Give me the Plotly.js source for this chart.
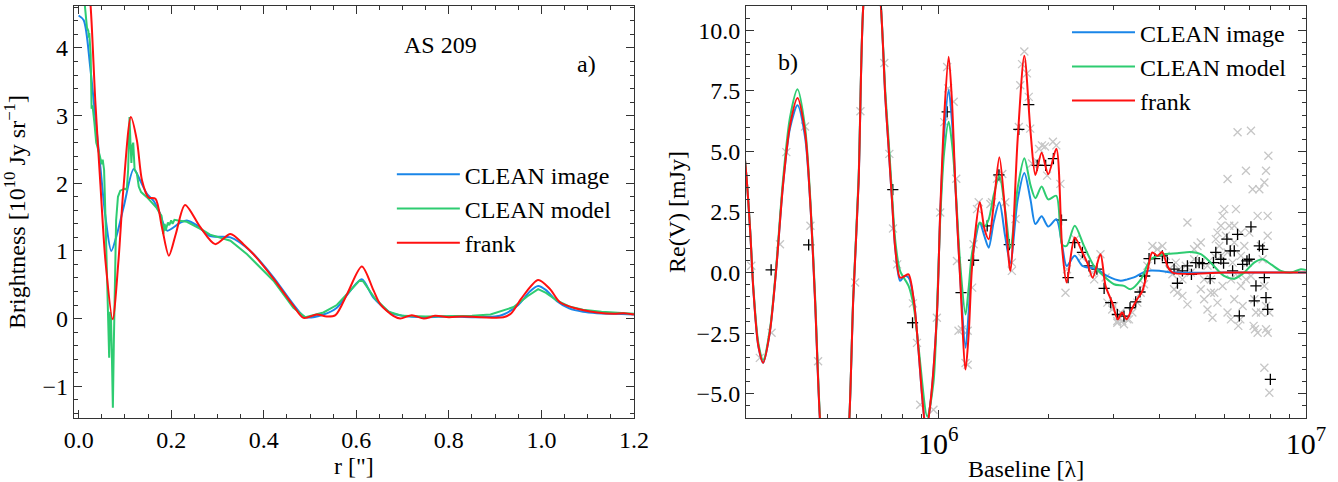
<!DOCTYPE html>
<html>
<head>
<meta charset="utf-8">
<script src="https://cdn.plot.ly/plotly-3.0.1.min.js"></script>
<style>
  html, body { margin: 0; padding: 0; background: #fff; }
  #chart { width: 1338px; height: 482px; }
</style>
</head>
<body>
<div id="chart"></div>
<script>
// a) brightness profiles, r in arcsec, brightness in 1e10 Jy/sr
const imgR = [0, 0.011, 0.025, 0.036, 0.047, 0.058, 0.0706, 0.083, 0.097, 0.119, 0.133, 0.148, 0.162, 0.176, 0.191, 0.22, 0.234, 0.255, 0.284, 0.328, 0.371, 0.421, 0.464, 0.49, 0.529, 0.558, 0.587, 0.612, 0.637, 0.673, 0.70, 0.75, 0.8, 0.85, 0.9, 0.918, 0.95, 0.975, 0.993, 1.01, 1.033, 1.06, 1.09, 1.12, 1.16, 1.2];
const imgB = [4.48, 4.41, 3.72, 2.98, 2.24, 1.50, 1.0, 1.25, 1.64, 2.21, 2.04, 1.84, 1.74, 1.55, 1.30, 1.42, 1.45, 1.38, 1.22, 1.20, 1.0, 0.61, 0.21, 0.02, 0.06, 0.16, 0.41, 0.58, 0.31, 0.09, 0.04, 0.02, 0.03, 0.02, 0.03, 0.06, 0.2, 0.4, 0.48, 0.42, 0.26, 0.15, 0.1, 0.08, 0.07, 0.06];

const modR = [0, 0.012, 0.018, 0.021, 0.022, 0.023, 0.026, 0.028, 0.030, 0.034, 0.038, 0.043, 0.048, 0.050, 0.052, 0.055, 0.058, 0.061, 0.063, 0.066, 0.068, 0.070, 0.072, 0.074, 0.076, 0.078, 0.081, 0.085, 0.09, 0.1, 0.104, 0.107, 0.110, 0.112, 0.114, 0.116, 0.118, 0.121, 0.126, 0.13, 0.135, 0.148, 0.16, 0.168, 0.176, 0.179, 0.181, 0.183, 0.186, 0.188, 0.19, 0.193, 0.196, 0.2, 0.203, 0.207, 0.215, 0.234, 0.27, 0.284, 0.328, 0.364, 0.421, 0.464, 0.49, 0.529, 0.558, 0.595, 0.607, 0.615, 0.64, 0.67, 0.7, 0.75, 0.8, 0.85, 0.89, 0.94, 0.97, 0.993, 1.01, 1.033, 1.06, 1.09, 1.13, 1.17, 1.2];
const modB = [5.6, 4.7, 4.3, 4.25, 4.15, 4.22, 3.9, 3.1, 3.15, 2.9, 2.6, 2.48, 2.33, 2.28, 2.35, 2.2, 1.5, 0.6, 0.0, -0.58, 0.1, 0.0, -0.6, -1.32, -0.4, 0.3, 1.45, 1.8, 1.89, 1.92, 1.9, 2.2, 2.98, 2.6, 2.3, 2.55, 2.6, 2.2, 2.14, 1.95, 1.87, 1.79, 1.7, 1.64, 1.55, 1.52, 1.4, 1.25, 1.4, 1.3, 1.35, 1.42, 1.38, 1.45, 1.40, 1.46, 1.45, 1.43, 1.3, 1.24, 1.15, 0.95, 0.56, 0.16, 0.02, 0.09, 0.2, 0.48, 0.56, 0.55, 0.3, 0.1, 0.04, 0.03, 0.03, 0.04, 0.06, 0.17, 0.33, 0.435, 0.38, 0.27, 0.18, 0.13, 0.1, 0.08, 0.07];

const frkR = [0, 0.015, 0.027, 0.036, 0.047, 0.058, 0.0735, 0.086, 0.097, 0.113, 0.126, 0.137, 0.151, 0.166, 0.18, 0.195, 0.21, 0.23, 0.263, 0.295, 0.328, 0.356, 0.378, 0.421, 0.464, 0.486, 0.515, 0.536, 0.555, 0.58, 0.612, 0.637, 0.652, 0.68, 0.695, 0.72, 0.746, 0.77, 0.8, 0.83, 0.87, 0.918, 0.935, 0.957, 0.993, 1.018, 1.04, 1.069, 1.12, 1.157, 1.178, 1.2];
const frkB = [6.6, 5.6, 4.5, 3.22, 1.99, 0.85, -0.01, 0.85, 1.94, 2.98, 2.63, 2.04, 1.79, 1.77, 1.35, 0.93, 1.25, 1.68, 1.35, 1.10, 1.25, 1.10, 0.95, 0.59, 0.19, 0.01, 0.06, 0.03, 0.05, 0.36, 0.77, 0.42, 0.21, 0.04, 0.0, 0.05, 0.0, 0.04, 0.02, 0.03, 0.02, 0.02, 0.08, 0.30, 0.57, 0.44, 0.24, 0.16, 0.09, 0.07, 0.08, 0.06];

// b) visibilities, baseline in Mlambda, Re(V) in mJy
const imgBase = [0.29, 0.301, 0.308, 0.314, 0.324, 0.334, 0.348, 0.363, 0.378, 0.395, 0.414, 0.434, 0.448, 0.462, 0.476, 0.50, 0.525, 0.55, 0.573, 0.587, 0.607, 0.625, 0.661, 0.698, 0.718, 0.733, 0.748, 0.764, 0.787, 0.808, 0.830, 0.857, 0.883, 0.905, 0.926, 0.95, 0.991, 1.012, 1.038, 1.067, 1.09, 1.112, 1.148, 1.186, 1.21, 1.236, 1.297, 1.335, 1.371, 1.415, 1.466, 1.52, 1.570, 1.644, 1.714, 1.782, 1.837, 1.910, 1.991, 2.094, 2.173, 2.234, 2.35, 2.466, 2.70, 2.877, 3.133, 3.266, 3.404, 3.698, 4.027, 4.365, 6.0, 10];
const imgRe = [6.5, 3.9, 1.66, -0.69, -3.03, -3.72, -2.48, 0.28, 3.59, 5.95, 6.9, 5.6, 3.0, -1.1, -5.93, -10.5, -12, -10.5, -6, -1.1, 3.72, 11, 15, 11, 7.17, 5.1, 3.03, 0.97, -0.34, -0.15, -0.2, -1.1, -3.17, -5.2, -6.4, -5.5, -1.79, 2.4, 5.8, 7.53, 6.2, 3.73, -0.3, -3.1, -1.6, 0.5, 2.05, 1.5, 1.03, 2.1, 2.9, 1.5, 0.4, 3.0, 4.11, 3.0, 2.0, 2.32, 1.9, 2.2, 1.1, 0.27, 0.69, 0.28, 0.14, -0.14, -0.34, -0.28, -0.2, 0.07, 0.07, 0, 0, 0];

const modBase = [0.29, 0.301, 0.308, 0.314, 0.324, 0.334, 0.348, 0.363, 0.378, 0.395, 0.414, 0.434, 0.448, 0.462, 0.476, 0.50, 0.525, 0.55, 0.573, 0.587, 0.607, 0.625, 0.661, 0.698, 0.718, 0.733, 0.748, 0.764, 0.787, 0.830, 0.857, 0.883, 0.933, 0.97, 0.991, 1.012, 1.038, 1.067, 1.09, 1.112, 1.148, 1.186, 1.21, 1.236, 1.297, 1.335, 1.371, 1.415, 1.466, 1.52, 1.570, 1.644, 1.714, 1.782, 1.837, 1.910, 1.991, 2.094, 2.173, 2.234, 2.35, 2.49, 2.649, 2.818, 3.006, 3.199, 3.334, 3.556, 3.784, 4.111, 4.467, 4.853, 5.176, 5.508, 5.984, 6.383, 6.792, 7.228, 7.621, 8.035, 8.551, 9.12, 9.683, 10];
const modRe = [6.5, 3.9, 1.7, -0.6, -2.9, -3.6, -2.4, 0.4, 3.8, 6.4, 7.56, 6.0, 3.2, -0.9, -5.8, -10.5, -12, -10.5, -6, -1.0, 3.9, 11, 15, 11, 7.4, 5.4, 3.3, 1.3, 0.07, -0.55, -1.38, -3.03, -5.93, -4.55, -1.66, 2.2, 5.0, 6.22, 5.3, 3.73, 0.28, -1.73, -0.6, 0.83, 2.07, 1.9, 2.2, 3.2, 4.0, 2.6, 1.02, 3.5, 4.72, 3.6, 3.07, 3.55, 3.02, 3.17, 1.15, 1.1, 1.93, 1.1, 0.28, -0.14, -0.48, -0.55, -0.69, -0.28, 0.55, 0.76, 0.8, 0.85, 0.76, 0.41, -0.14, -0.25, 0, 0.41, 0.55, 0.34, 0.07, 0, 0.14, 0.11];

const frkBase = [0.29, 0.301, 0.308, 0.314, 0.324, 0.334, 0.348, 0.363, 0.378, 0.395, 0.414, 0.434, 0.448, 0.462, 0.476, 0.50, 0.525, 0.55, 0.573, 0.587, 0.607, 0.625, 0.661, 0.698, 0.718, 0.733, 0.748, 0.764, 0.787, 0.808, 0.830, 0.857, 0.883, 0.905, 0.926, 0.95, 0.991, 1.012, 1.038, 1.067, 1.09, 1.112, 1.148, 1.186, 1.21, 1.236, 1.297, 1.335, 1.371, 1.415, 1.466, 1.52, 1.570, 1.644, 1.714, 1.782, 1.837, 1.910, 1.991, 2.094, 2.173, 2.234, 2.35, 2.466, 2.541, 2.63, 2.761, 2.851, 2.972, 3.076, 3.162, 3.251, 3.373, 3.475, 3.589, 3.698, 3.819, 3.945, 4.064, 4.198, 4.335, 6.0, 10];
const frkRe = [6.5, 3.9, 1.66, -0.69, -3.03, -3.72, -2.48, 0.28, 3.59, 6.07, 7.2, 5.79, 3.03, -1.1, -5.93, -10.5, -12, -10.5, -6, -1.1, 3.72, 11, 15, 11, 7.17, 5.1, 3.03, 0.97, -0.21, -0.15, -0.07, -1.1, -3.17, -5.2, -6.6, -5.5, -1.79, 2.48, 6.48, 8.91, 7.0, 3.73, -0.41, -4.0, -2.5, 0.28, 2.9, 1.8, 1.38, 2.8, 4.76, 2.5, 0.07, 5.52, 8.95, 5.8, 4.03, 4.94, 4.06, 5.11, 0.97, -0.41, 1.45, 0.83, 0.41, -0.21, 0.76, -0.55, -1.24, -1.93, -1.65, -1.93, -1.45, -1.10, -0.76, 0, 0.83, 0.69, 0.85, 0.28, 0, 0, 0];

// observed visibilities (grey x)
const obsBase = [0.310, 0.327, 0.352, 0.371, 0.386, 0.434, 0.449, 0.471, 0.594, 0.614, 0.713, 0.736, 0.753, 0.773, 0.853, 0.875, 0.893, 0.970, 0.991, 1.012, 1.038, 1.057, 1.064, 1.101, 1.119, 1.124, 1.135, 1.159, 1.186, 1.202, 1.202, 1.236, 1.247, 1.274, 1.288, 1.386, 1.4, 1.445, 1.493, 1.521, 1.585, 1.585, 1.622, 1.656, 1.671, 1.69, 1.714, 1.742, 1.762, 1.778, 1.80, 1.85, 1.88, 1.914, 1.95, 1.977, 2.05, 2.094, 2.148, 2.218, 2.239, 2.360, 2.460, 2.624, 2.655, 2.761, 2.851, 2.884, 2.972, 3.069, 3.162, 3.266,
  3.068, 3.199, 3.301, 3.132, 3.004, 3.371, 3.478, 3.551, 3.627, 3.704, 3.822, 3.944, 4.069, 4.155, 4.243, 4.333, 4.425, 4.519, 4.613, 4.711, 4.760, 4.861, 4.964, 5.069, 5.176, 5.285, 5.397, 5.511, 5.569, 5.630, 5.686, 5.746, 5.808, 5.869, 5.931, 5.994, 6.057, 6.120, 6.185, 6.250, 6.316, 6.383, 6.450, 6.516, 6.544, 6.628, 6.655, 6.725, 6.796, 6.867, 6.939, 7.012, 7.086, 7.160, 7.205, 7.266, 7.311, 7.388, 7.466, 7.545, 7.624, 7.706, 7.706, 7.786, 7.786, 7.869, 7.869, 7.869, 7.902, 7.951, 7.706, 7.951, 6.120, 6.383, 6.655, 6.867, 4.760, 4.378, 4.471, 4.613, 5.176, 5.285, 5.511, 5.746, 5.931, 6.120, 6.383, 6.655, 7.086, 7.236, 7.388, 7.786, 7.545, 5.869, 5.630, 5.176, 4.964, 5.397, 6.250, 6.516];
const obsRe = [0.28, -3.52, -2.48, 1.17, 4.97, 6.03, 1.93, -3.66, -0.41, 6.66, 8.65, 4.9, 1.82, 0.34, -1.27, -2.9, -5.45, -5.66, -1.86, 2.48, 6.21, 8.48, 7.6, 7.05, 3.87, 0.48, -2.4, -2.35, -3.73, -2.4, -3.8, -0.62, 1.17, 2.62, 2.9, 2.83, 2.9, 3.87, 4.07, 2.9, 0.41, 0.07, 2.21, 6.01, 7.73, 8.6, 9.12, 8.22, 7.25, 5.94, 4.5, 4.6, 5.1, 5.25, 5.2, 4.0, 5.4, 5.25, 3.66, -0.83, 0.14, 1.38, 0.62, 0, -0.28, 0.76, -0.2, -1.24, -1.52, -2.0, -2.0, -1.93,
  -2.07, -2.13, -1.93, -1.65, -1.38, -1.65, -1.24, -0.83, -0.48, 0.28, 1.1, 0.96, 1.1, 0.69, 0.14, -0.07, 0.41, 0.14, -0.28, 0.28, -1.31, 0, 0.55, 1.1, 0.41, -0.28, 0.28, -0.83, -1.86, 0.69, 1.38, 1.65, 1.1, 1.93, 2.34, 2.62, 1.52, 0.83, 1.93, -0.28, 0.41, 1.24, 2.62, 5.79, -2.2, -1.93, -0.55, -1.38, 1.1, 4.2, 0.41, 1.65, 5.85, 3.44, -2.2, -2.34, -1.65, 2.34, 3.44, 1.1, 0.55, 3.72, -0.55, 4.2, -2.34, 1.52, 2.34, -2.48, 4.82, -1.65, -3.93, -4.96, 3.86, 1.93, 1.65, -0.28, 2.07, -0.69, -0.83, -0.96, -0.69, -1.1, -0.28, -1.24, -0.55, -1.65, -1.1, 0.69, -0.14, -1.1, -2.48, -1.38, -1.65, 0.69, -0.83, 1.24, 0.96, -1.52, -1.93, -0.14];

// binned visibilities (black +)
const binBase = [0.351, 0.444, 0.752, 0.851, 1.057, 1.153, 1.247, 1.358, 1.462, 1.56, 1.656, 1.762, 1.858, 1.959, 2.056, 2.163, 2.254, 2.35, 2.466, 2.57, 2.70, 2.825, 2.944, 3.069, 3.199, 3.323, 3.443, 3.537, 3.642, 3.743, 3.879, 4.069, 4.199, 4.378, 4.471, 4.613, 4.760, 4.881, 5.017, 5.123, 5.232, 5.488, 5.604, 5.686, 5.869, 5.969, 6.095, 6.223, 6.316, 6.383, 6.516, 6.588, 6.725, 6.91, 7.012, 7.086, 7.236, 7.311, 7.466, 7.624, 7.706, 7.786, 7.869, 8.001];
const binRe = [0.11, 1.14, 3.42, -2.07, 6.63, -0.83, 0.51, 1.93, 4.03, 1.15, 5.91, 6.93, 4.42, 4.42, 4.7, 2.17, -0.21, 1.24, 0.83, 0.28, 0.14, -0.65, -1.24, -1.73, -1.8, -1.45, -1.21, -0.8, -0.14, 0.58, 0.58, 0.69, 0.41, 0.14, -0.44, 0.07, 0.28, -0.07, 0.41, 0.41, 0.37, -0.25, 0.41, 0.83, 0.55, 0.39, 1.38, 0.9, 0.07, 0.9, 1.58, -1.79, 0.34, 0.48, 0.55, 1.89, -1.17, -0.55, 1.1, 0.96, -0.21, -1.03, -1.52, -4.41];

const seriesNames = ['CLEAN image', 'CLEAN model', 'frank'];
const seriesColors = ['#1a86e8', '#2ecc71', '#ff1010'];

// Mlambda -> lambda
const toLambda = arr => arr.map(b => b * 1e6);

document.addEventListener('DOMContentLoaded', function() {
    const serif = '"Liberation Serif", "Times New Roman", serif';
    const txt = {family: serif, size: 24, color: 'black'};

    const curve = (x, y, i, xa, ya, legend, shape) => ({
        type: 'scatter', mode: 'lines', x: x, y: y,
        xaxis: xa, yaxis: ya, name: seriesNames[i], legend: legend,
        showlegend: true,
        line: {color: seriesColors[i], width: 2, shape: shape, smoothing: 0.8}
    });

    const data = [
        // panel a
        curve(imgR, imgB, 0, 'x', 'y', 'legend', 'spline'),
        curve(modR, modB, 1, 'x', 'y', 'legend', 'linear'),
        curve(frkR, frkB, 2, 'x', 'y', 'legend', 'spline'),
        // panel b points
        {
            type: 'scatter', mode: 'markers', x: toLambda(obsBase), y: obsRe,
            xaxis: 'x2', yaxis: 'y2', showlegend: false,
            marker: {symbol: 'x-thin-open', size: 8, color: '#c6c6c6', line: {color: '#c6c6c6', width: 1.3}}
        },
        {
            type: 'scatter', mode: 'markers', x: toLambda(binBase), y: binRe,
            xaxis: 'x2', yaxis: 'y2', showlegend: false,
            marker: {symbol: 'cross-thin-open', size: 8, color: 'black', line: {color: 'black', width: 1.3}}
        },
        curve(toLambda(imgBase), imgRe, 0, 'x2', 'y2', 'legend2', 'spline'),
        curve(toLambda(modBase), modRe, 1, 'x2', 'y2', 'legend2', 'spline'),
        curve(toLambda(frkBase), frkRe, 2, 'x2', 'y2', 'legend2', 'spline')
    ];

    const axisBase = {
        showline: true, linecolor: '#333', linewidth: 1.2,
        mirror: 'allticks', ticks: 'inside', ticklen: 8, tickwidth: 1.2, tickcolor: '#333',
        showgrid: false, zeroline: false,
        tickfont: txt
    };

    const layout = {
        width: 1338, height: 482,
        margin: {l: 74, r: 32, t: 6, b: 64},
        paper_bgcolor: 'white', plot_bgcolor: 'white',
        font: txt,
        xaxis: Object.assign({}, axisBase, {
            domain: [0, 0.4545], range: [-0.01, 1.2], dtick: 0.2, tick0: 0, tickformat: '.1f',
            minor: {ticks: 'inside', ticklen: 4, dtick: 0.05, tickcolor: '#333'},
            title: {text: 'r ["]', font: txt, standoff: 4}
        }),
        yaxis: Object.assign({}, axisBase, {
            anchor: 'x', domain: [0, 1], range: [-1.47, 4.62], dtick: 1,
            minor: {ticks: 'inside', ticklen: 4, dtick: 0.2, tickcolor: '#333'},
            title: {text: 'Brightness [10<sup>10</sup> Jy sr<sup>−1</sup>]', font: txt, standoff: 12}
        }),
        xaxis2: Object.assign({}, axisBase, {
            anchor: 'y2', domain: [0.5455, 1], type: 'log',
            range: [Math.log10(3e5), 7.0001], dtick: 1, exponentformat: 'power',
            minor: {ticks: 'inside', ticklen: 4, dtick: 'D1', tickcolor: '#333'},
            title: {text: 'Baseline [λ]', font: txt, standoff: 4}
        }),
        yaxis2: Object.assign({}, axisBase, {
            anchor: 'x2', domain: [0, 1], range: [-6, 11], dtick: 2.5, tickformat: '.1f',
            minor: {ticks: 'inside', ticklen: 4, dtick: 0.5, tickcolor: '#333'},
            title: {text: 'Re(V) [mJy]', font: txt, standoff: 4}
        }),
        legend: {
            x: 0.258, y: 0.645, xanchor: 'left', yanchor: 'top',
            bgcolor: 'rgba(0,0,0,0)', itemwidth: 63, tracegroupgap: 0,
            font: txt
        },
        legend2: {
            x: 0.806, y: 0.99, xanchor: 'left', yanchor: 'top',
            bgcolor: 'rgba(0,0,0,0)', itemwidth: 63, tracegroupgap: 0,
            font: txt
        },
        annotations: [
            {xref: 'x', yref: 'y', x: 0.783, y: 4.05, text: 'AS 209', showarrow: false, font: txt},
            {xref: 'x', yref: 'y', x: 1.098, y: 3.76, text: 'a)', showarrow: false, font: txt},
            {xref: 'x2', yref: 'y2', x: 5.591, y: 8.71, text: 'b)', showarrow: false, font: txt}
        ]
    };

    Plotly.newPlot('chart', data, layout, {displayModeBar: false, responsive: false});
});
</script>
</body>
</html>
